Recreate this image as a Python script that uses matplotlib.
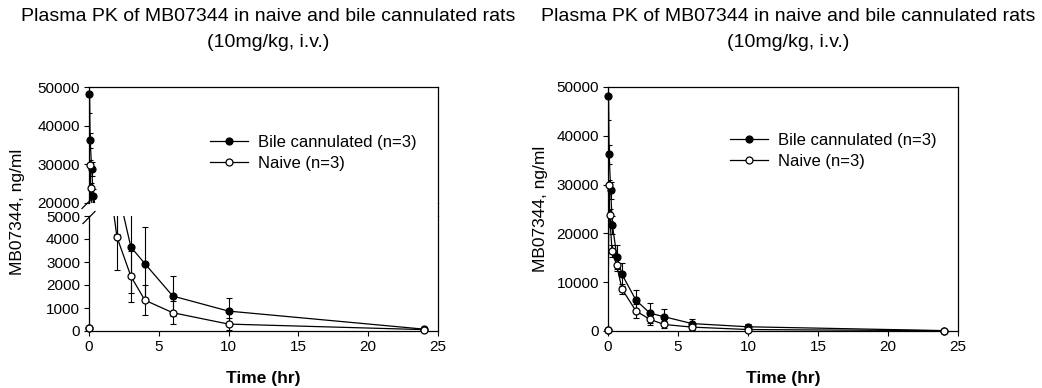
import matplotlib
matplotlib.use('Agg')
import matplotlib.pyplot as plt
from matplotlib.lines import Line2D

plt.rcParams['font.family'] = ['Liberation Sans', 'DejaVu Sans']

# ---- data ----
bile_time = [0, 0.033, 0.083, 0.19, 0.31, 0.64, 1, 2, 3, 4, 6, 10, 24]
bile_conc = [120, 48200, 36200, 28800, 21700, 15200, 11600, 6300, 3650, 2930, 1520, 865, 80]
bile_sd = [0, 4900, 1900, 1800, 1900, 2400, 2400, 2100, 2000, 1590, 880, 555, 20]

naive_time = [0, 0.07, 0.12, 0.29, 0.62, 1, 2, 3, 4, 6, 10, 24]
naive_conc = [120, 29900, 23800, 16400, 13500, 8600, 4090, 2380, 1340, 795, 300, 60]
naive_sd = [0, 1100, 1300, 1300, 1200, 1100, 1450, 1100, 650, 500, 260, 20]

title_line1 = "Plasma PK of MB07344 in naive and bile cannulated rats"
title_line2 = "(10mg/kg, i.v.)"
xlabel = "Time (hr)"
ylabel = "MB07344, ng/ml"
series_labels = ["Bile cannulated (n=3)", "Naive (n=3)"]
x_ticks = [0, 5, 10, 15, 20, 25]
upper_ticks = [20000, 30000, 40000, 50000]
lower_ticks = [0, 1000, 2000, 3000, 4000, 5000]
full_ticks = [0, 10000, 20000, 30000, 40000, 50000]

W, H = 1042, 388
fig = plt.figure(figsize=(W / 100, H / 100), dpi=100)


def rect(x0, y0, x1, y1):
    return [x0 / W, 1 - y1 / H, (x1 - x0) / W, (y1 - y0) / H]


def fx(x):
    return x / W


def fy(y):
    return 1 - y / H


series = [
    (bile_time, bile_conc, bile_sd, 'black', 3),
    (naive_time, naive_conc, naive_sd, 'white', 5),
]


def draw(ax, ylo, yhi):
    for t, c, s, face, z in series:
        ax.errorbar(t, c, yerr=s, fmt='none', ecolor='black', elinewidth=0.8,
                    capsize=2.5, capthick=0.8, zorder=z - 1)
        ax.plot(t, c, color='black', lw=0.9, zorder=z)
        mt = [a for a, b in zip(t, c) if ylo <= b <= yhi]
        mc = [b for b in c if ylo <= b <= yhi]
        ax.plot(mt, mc, ls='none', marker='o', ms=5, mfc=face, mec='black',
                mew=0.9, zorder=z + 0.5, clip_on=False)
    ax.set_xlim(0, 25)
    ax.set_ylim(ylo, yhi)
    ax.tick_params(direction='out', length=3.5, width=0.8, labelsize=11,
                   pad=3, colors='black')
    for sp in ax.spines.values():
        sp.set_linewidth(0.9)
        sp.set_color('black')


# ---- left chart: broken axis ----
axU = fig.add_axes(rect(89, 87, 438, 203))
axL = fig.add_axes(rect(89, 216, 438, 331))
draw(axU, 20000, 50000)
draw(axL, 0, 5000)
axU.set_yticks(upper_ticks)
axL.set_yticks(lower_ticks)
axL.set_xticks(x_ticks)
axU.set_xticks([])
axU.spines['bottom'].set_visible(False)
axL.spines['top'].set_visible(False)
# continuous right spine across the gap
fig.add_artist(Line2D([fx(438), fx(438)], [fy(203), fy(216)], color='black',
                      lw=0.9, transform=fig.transFigure))
# break marks
for cx, cy in [(88, 202.5), (89, 217.5)]:
    fig.add_artist(Line2D([fx(cx - 6), fx(cx + 6)], [fy(cy + 6), fy(cy - 6)],
                          color='black', lw=0.9, transform=fig.transFigure))

# ---- right chart ----
axR = fig.add_axes(rect(608, 87, 958, 331))
draw(axR, 0, 50000)
axR.set_yticks(full_ticks)
axR.set_xticks(x_ticks)

# ---- text ----
for cx in (268, 788):
    fig.text(fx(cx), fy(21), title_line1, ha='center', va='baseline', fontsize=14)
    fig.text(fx(cx), fy(47), title_line2, ha='center', va='baseline', fontsize=14)
fig.text(fx(263), fy(379), xlabel, ha='center', va='center', fontsize=12.5,
         fontweight='bold')
fig.text(fx(783), fy(379), xlabel, ha='center', va='center', fontsize=12.5,
         fontweight='bold')
fig.text(fx(18), fy(212), ylabel, ha='center', va='center', rotation=90, fontsize=12.5)
fig.text(fx(540), fy(209), ylabel, ha='center', va='center', rotation=90, fontsize=12.5)

# ---- legends ----
handles = [
    Line2D([], [], color='black', lw=0.9, marker='o', ms=5, mfc='black', mec='black', mew=0.9),
    Line2D([], [], color='black', lw=0.9, marker='o', ms=5, mfc='white', mec='black', mew=0.9),
]
for ax, lx, ly in [(axU, 210, 153), (axR, 730, 151)]:
    ax.legend(handles, series_labels, loc='center left',
              bbox_to_anchor=(fx(lx), fy(ly)), bbox_transform=fig.transFigure,
              frameon=False, fontsize=12, handlelength=2.3, handletextpad=0.6,
              labelspacing=0.33, borderpad=0, borderaxespad=0)

fig.savefig('out.png', dpi=100)
